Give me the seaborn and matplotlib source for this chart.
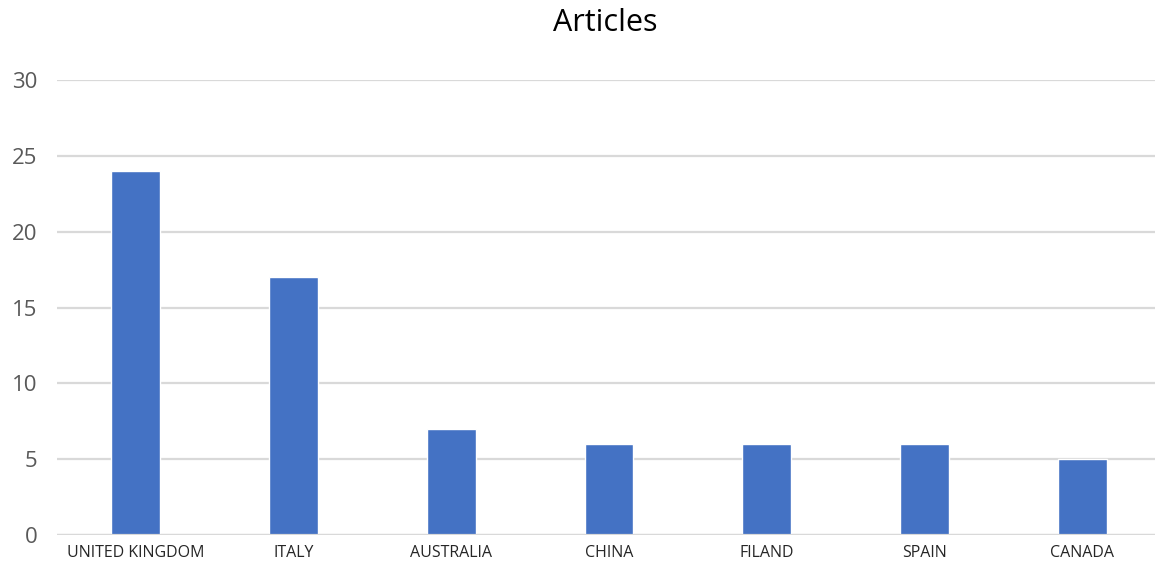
import matplotlib
matplotlib.use("Agg")
import matplotlib.pyplot as plt
import seaborn as sns
import pandas as pd

countries = ["UNITED KINGDOM", "ITALY", "AUSTRALIA", "CHINA", "FILAND", "SPAIN", "CANADA"]
articles = [24, 17, 7, 6, 6, 6, 5]
y_ticks = [0, 5, 10, 15, 20, 25, 30]

sns.set_theme(style="white")
plt.rcParams["font.family"] = ["Open Sans", "DejaVu Sans"]

df = pd.DataFrame({"country": countries, "articles": articles})

fig = plt.figure(figsize=(11.55, 5.63), dpi=100)
ax = fig.add_axes([57 / 1155, 28 / 563, 1104 / 1155, 455 / 563])

sns.barplot(data=df, x="country", y="articles", color="#4472C4",
            width=0.31, saturation=1, ax=ax, zorder=3)

ax.set_ylim(0, 30)
ax.set_yticks(y_ticks)
ax.yaxis.grid(True, color="#D9D9D9", linewidth=1.6, zorder=0)
ax.xaxis.grid(False)
for s in ax.spines.values():
    s.set_visible(False)
ax.axhline(0, color="#D9D9D9", linewidth=1.6, zorder=4)

ax.set_xlabel("")
ax.set_ylabel("")
ax.tick_params(axis="y", labelsize=16, labelcolor="#595959", length=0, pad=14)
ax.tick_params(axis="x", labelsize=11.5, labelcolor="#262626", length=0, pad=7)

fig.text(605 / 1155, 1 - 23 / 563, "Articles", ha="center", va="center",
         fontsize=22, color="#000000")

fig.savefig("out.png", dpi=100)
